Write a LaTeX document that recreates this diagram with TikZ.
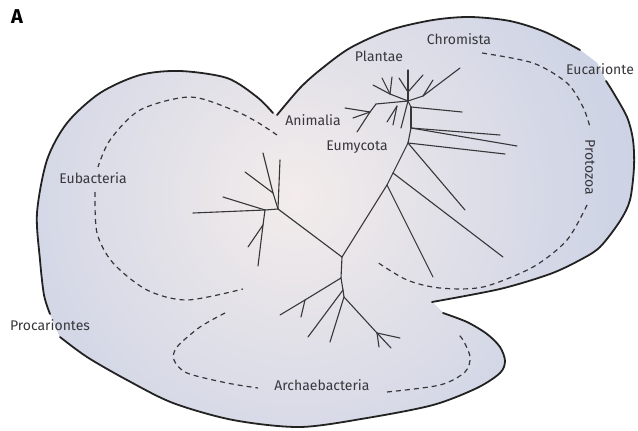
\documentclass[tikz,border=0pt]{standalone}
\usepackage{fontspec}
\setsansfont{Fira Sans}
\definecolor{lobeout}{RGB}{187,199,226}
\definecolor{lobein}{RGB}{243,236,235}
\definecolor{rimcol}{RGB}{34,34,34}
\definecolor{twigcol}{RGB}{55,55,58}
\definecolor{inkcol}{RGB}{55,55,60}
\pgfdeclareradialshading{lobeglow}{\pgfpointorigin}{color(0bp)=(lobein); color(12bp)=(lobeout!55!lobein); color(25bp)=(lobeout); color(50bp)=(lobeout)}
\tikzset{
  rim/.style={line width=1.8pt, color=rimcol, line cap=round},
  twig/.style={line width=1.1pt, color=twigcol, line cap=round},
  ring/.style={line width=1.2pt, color=twigcol, dash pattern=on 5pt off 4pt},
  taxon/.style={font=\sffamily\fontsize{14}{16}\selectfont, text=inkcol, inner sep=1pt},
}

\begin{document}
\begin{tikzpicture}[x=1pt,y=-1pt]
\useasboundingbox (0,0) rectangle (638,431);
\fill[white] (0,0) rectangle (638,431);

% lobes
\path[fill=lobeout, path picture={\shade[shading=lobeglow] (295,195) circle (540pt);}]
  plot[smooth] coordinates {(273,113) (257,97) (227,78) (180,71) (140,75) (100,93) (67,123) (47,160) (37,213) (40,260) (44,295) (50,314)}
  -- plot[smooth] coordinates {(60,337) (87,357) (127,380) (173,403) (233,420) (300,427) (367,418) (433,405) (477,388) (500,373) (505,361) (500,347) (487,334) (467,322) (443,313)}
  -- plot[smooth] coordinates {(432,302) (500,289) (550,274) (580,260) (600,247) (620,221) (630,200) (634,167) (633,140) (627,117) (613,92) (606,81)}
  -- (597,63)
  -- plot[smooth] coordinates {(580,50) (545,32) (510,21) (470,17) (433,20) (390,30) (350,48) (320,70) (300,88) (277,115)}
  -- cycle;

\draw[rim] plot[smooth] coordinates {(273,113) (257,97) (227,78) (180,71) (140,75) (100,93) (67,123) (47,160) (37,213) (40,260) (44,295) (50,314)};
\draw[rim] plot[smooth] coordinates {(60,337) (87,357) (127,380) (173,403) (233,420) (300,427) (367,418) (433,405) (477,388) (500,373) (505,361) (500,347) (487,334) (467,322) (443,313)};
\draw[rim] plot[smooth] coordinates {(432,302) (500,289) (550,274) (580,260) (600,247) (620,221) (630,200) (634,167) (633,140) (627,117) (613,92) (606,81)};
\draw[rim] plot[smooth] coordinates {(580,50) (545,32) (510,21) (470,17) (433,20) (390,30) (350,48) (320,70) (300,88) (277,115)};

% group borders
\draw[ring] plot[smooth] coordinates {(277,135) (257,122) (233,110) (190,97) (140,110) (110,140) (98,167)};
\draw[ring] plot[smooth] coordinates {(95,192) (97,233) (113,263) (147,290) (187,300) (243,289)};
\draw[ring] plot[smooth] coordinates {(225,313) (200,327) (177,347) (174,360) (187,373) (227,383) (258,388)};
\draw[ring] plot[smooth] coordinates {(387,392) (440,385) (465,372) (470,357) (463,340) (457,333)};
\draw[ring] plot[smooth] coordinates {(482,53) (533,63) (567,83) (583,107) (590,127)};
\draw[ring] plot[smooth] coordinates {(587,205) (567,240) (533,267) (483,287) (440,288) (407,280) (377,262)};

% tree
\coordinate (C) at (342,257);
\coordinate (T1) at (387,185);
\coordinate (T2) at (393,173);
\coordinate (T3) at (408,143);
\coordinate (T4) at (411,128);
\coordinate (T5) at (411,107);
\coordinate (T) at (408,101);
\coordinate (u1) at (433,277);
\coordinate (u2) at (503,257);
\coordinate (u3) at (465,210);
\coordinate (u4) at (505,154);
\coordinate (u5) at (500,135);
\coordinate (u6) at (517,146);
\coordinate (u7) at (462,112);
\coordinate (P) at (408,92);
\coordinate (p1) at (408,70);
\coordinate (p2) at (399,78);
\coordinate (p3) at (423,75);
\coordinate (R) at (423,96);
\coordinate (r1) at (460,68);
\coordinate (r2) at (433,80);
\coordinate (Lf) at (390,94);
\coordinate (lf1) at (373,85);
\coordinate (lf2) at (382,78);
\coordinate (lf3) at (392,77);
\coordinate (N1) at (376,104);
\coordinate (N2) at (370,112);
\coordinate (n1) at (357,132);
\coordinate (n2) at (345,108);
\coordinate (n3) at (353,118);
\coordinate (K) at (397,106);
\coordinate (k1) at (387,122);
\coordinate (k2) at (393,125);
\coordinate (k3) at (401,128);
\coordinate (A) at (278,209);
\coordinate (A2) at (265,210);
\coordinate (A3) at (273,193);
\coordinate (A4) at (263,225);
\coordinate (a1) at (280,160);
\coordinate (a2) at (263,153);
\coordinate (a3) at (245,172);
\coordinate (a4) at (193,213);
\coordinate (a5) at (223,197);
\coordinate (a6) at (258,266);
\coordinate (a7) at (248,247);
\coordinate (D) at (341,278);
\coordinate (Dl) at (305,300);
\coordinate (F) at (343,290);
\coordinate (G) at (344,297);
\coordinate (H) at (377,333);
\coordinate (b1) at (280,315);
\coordinate (b2) at (301,317);
\coordinate (b3) at (308,337);
\coordinate (b4) at (330,342);
\coordinate (b5) at (391,348);
\coordinate (b6) at (400,338);
\coordinate (b7) at (379,347);

\foreach \a/\b in {C/T1, T1/T2, T2/T3, T3/T4, T4/T5, T5/T,
    T1/u1, T2/u2, T3/u3, T3/u4, T4/u5, T4/u6, T5/u7,
    T/P, P/p1, P/p2, P/p3, T/R, R/r1, R/r2, T/Lf, Lf/lf1, Lf/lf2, Lf/lf3,
    T/N1, N1/N2, N2/n1, N2/n2, N2/n3, K/k1, K/k2, T/k3,
    C/A, A/a1, A/A3, A3/a2, A3/a3, A/A2, A2/a4, A2/a5, A2/A4, A4/a6, A4/a7,
    C/D, D/Dl, Dl/b1, Dl/b2, D/F, F/b3, F/G, G/b4, G/H, H/b5, H/b6, H/b7}
  \draw[twig] (\a) -- (\b);

% labels
\node[font=\sffamily\bfseries\fontsize{20}{20}\selectfont] (panel) at (17,17) {A};
\node[taxon] (plantae) at (379,56) {Plantae};
\node[taxon] (chromista) at (459,39) {Chromista};
\node[taxon] (eucarionte) at (600,69) {Eucarionte};
\node[taxon] (animalia) at (313,120) {Animalia};
\node[taxon] (eumycota) at (357,147) {Eumycota};
\node[taxon, rotate=-90] (protozoa) at (590,167) {Protozoa};
\node[taxon] (eubacteria) at (93,178) {Eubacteria};
\node[taxon] (procariontes) at (50,325) {Procariontes};
\node[taxon] (archaebacteria) at (322,385) {Archaebacteria};

\end{tikzpicture}
\end{document}
